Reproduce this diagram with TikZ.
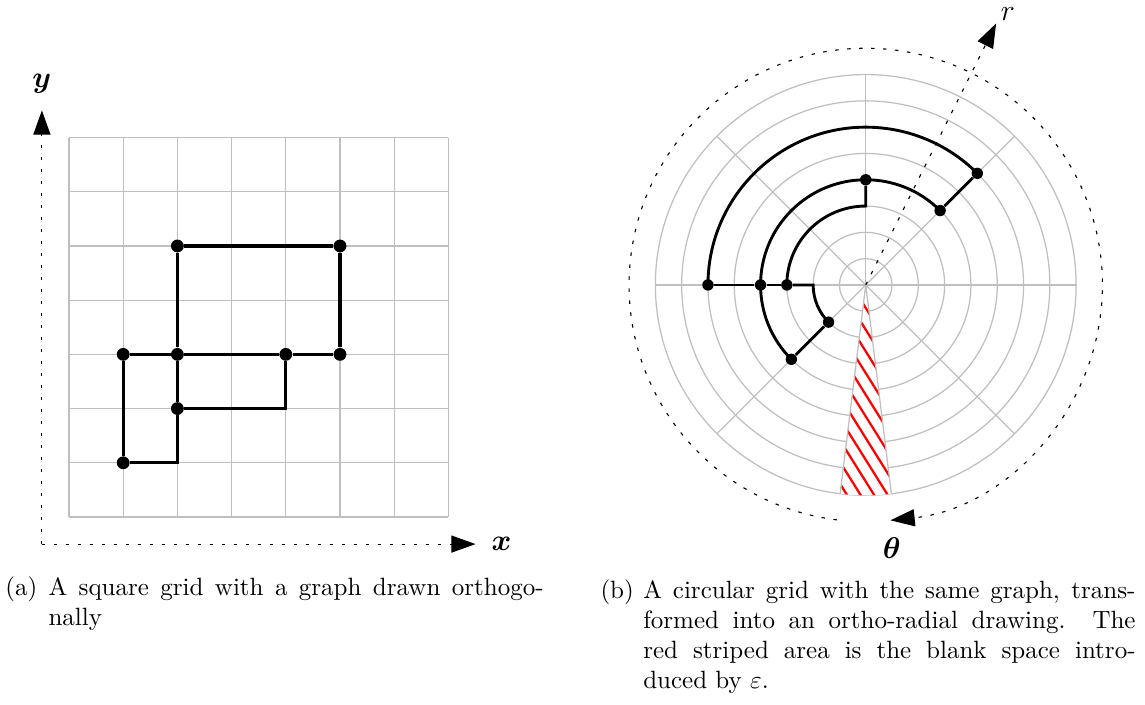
\documentclass[tikz,border=0pt]{standalone}
\usepackage{amsmath}
\usetikzlibrary{arrows.meta,calc}

\begin{document}
\begin{tikzpicture}[
    >={Triangle[length=3.4mm,width=2.4mm]},
    gridline/.style={draw=gray!50, line width=0.5pt},
    axisline/.style={draw=black, ->, line width=0.45pt, dash pattern=on 1.4pt off 3.4pt},
    graphedge/.style={draw=black, line width=1.3pt},
    polaredge/.style={draw=black, line width=1.15pt},
    vertex/.style={circle, fill=black, inner sep=0pt, minimum size=0.18cm},
    pvertex/.style={vertex, minimum size=0.16cm},
    stripe/.style={draw=red, line width=0.9pt},
    axislabel/.style={font=\large, inner sep=1pt},
    caplabel/.style={anchor=base west, inner sep=0pt},
    captext/.style={anchor=base west, inner sep=0pt, align=justify}
]

% page frame
\useasboundingbox (0,0) rectangle (16.097,9.911);

% --- (a) SQUARE GRID ---
\begin{scope}[shift={(0.970,2.643)}, x=0.762cm, y=0.762cm]
    \foreach \i in {0,...,7} {
        \draw[gridline] (\i,0) -- (\i,7);
        \draw[gridline] (0,\i) -- (7,\i);
    }

    % axes
    \coordinate (orig) at (-0.5,-0.5);
    \coordinate (xtip) at (7.5,-0.5);
    \coordinate (ytip) at (-0.5,7.5);
    \draw[axisline] (orig) -- (xtip);
    \draw[axisline] (orig) -- (ytip);
    \node[axislabel] (xlab) at (7.98,-0.49) {$\boldsymbol{x}$};
    \node[axislabel] (ylab) at (-0.5,8.0) {$\boldsymbol{y}$};

    % vertices
    \node[vertex] (a) at (2,5) {};
    \node[vertex] (b) at (2,3) {};
    \node[vertex] (c) at (2,2) {};
    \node[vertex] (d) at (1,1) {};
    \node[vertex] (e) at (1,3) {};
    \node[vertex] (f) at (4,3) {};
    \node[vertex] (g) at (5,3) {};
    \node[vertex] (h) at (5,5) {};

    % edges
    \draw[graphedge] (d) -| (c);
    \draw[graphedge] (d) -- (e);
    \draw[graphedge] (e) -- (b) -- (f) -- (g);
    \draw[graphedge] (c) -- (b) -- (a);
    \draw[graphedge] (c) -| (f);
    \draw[graphedge] (a) -- (h) -- (g);
\end{scope}

% --- (b) CIRCULAR GRID ---
\begin{scope}[shift={(12.171,5.905)}, x=0.3697cm, y=0.3697cm]
    \coordinate (pole) at (0,0);
    \foreach \k in {1,...,8}
        \draw[gridline] (pole) circle[radius=\k];
    \foreach \a in {0,45,90,135,180,225,315}
        \draw[gridline] (pole) -- (\a:8);

    % epsilon gap
    \coordinate (gapl) at (263:8);
    \coordinate (gapr) at (277:8);
    \fill[white] (pole) -- (gapl) arc[start angle=263, end angle=277, radius=8] -- cycle;
    \begin{scope}
        \clip (pole) -- (gapl) arc[start angle=263, end angle=277, radius=8] -- cycle;
        \foreach \s in {0,...,15}
            \draw[stripe] ($(-1.2,1.92)+(0,1.6-0.825*\s)$) -- ++(2.4,-3.84);
    \end{scope}
    \draw[gridline] (gapl) -- (pole) -- (gapr);

    % axes
    \coordinate (rtip) at (63.5:11.11);
    \coordinate (tstart) at (263:9);
    \draw[axisline] (pole) -- (rtip);
    \draw[axisline] (tstart) arc[start angle=263, end angle=-84, radius=9];
    \node[axislabel] (rlab) at (5.41,10.3) {$r$};
    \node[axislabel] (tlab) at (0.99,-10.01) {$\boldsymbol{\theta}$};

    % vertices
    \node[pvertex] (pa) at (180:6) {};
    \node[pvertex] (pb) at (180:4) {};
    \node[pvertex] (pc) at (180:3) {};
    \node[pvertex] (pd) at (225:2) {};
    \node[pvertex] (pe) at (225:4) {};
    \node[pvertex] (pf) at (90:4) {};
    \node[pvertex] (pg) at (45:4) {};
    \node[pvertex] (ph) at (45:6) {};

    % edges
    \draw[polaredge] (pa) arc[start angle=180, end angle=45, radius=6];
    \draw[polaredge] (ph) -- (pg);
    \draw[polaredge] (pg) arc[start angle=45, end angle=225, radius=4];
    \draw[polaredge] (pe) -- (pd);
    \draw[polaredge] (pd) arc[start angle=225, end angle=180, radius=2] -- (pc);
    \draw[polaredge] (pc) arc[start angle=180, end angle=90, radius=3] -- (pf);
    \draw[polaredge] (pc) -- (pb) -- (pa);
\end{scope}

% --- CAPTIONS ---
\node[caplabel] (capa) at (0.070,1.546) {(a)};
\node[captext, text width=6.96cm] (capatext) at (0.675,1.546)
    {A square grid with a graph drawn orthogo-\linebreak nally};

\node[caplabel] (capb) at (8.435,1.490) {(b)};
\node[captext, text width=6.921cm] (capbtext) at (9.036,1.490)
    {A circular grid with the same graph, trans-\linebreak formed into an
     ortho-radial drawing. The\linebreak red striped area is the blank space
     intro-\linebreak duced by $\varepsilon$.};

\end{tikzpicture}
\end{document}
